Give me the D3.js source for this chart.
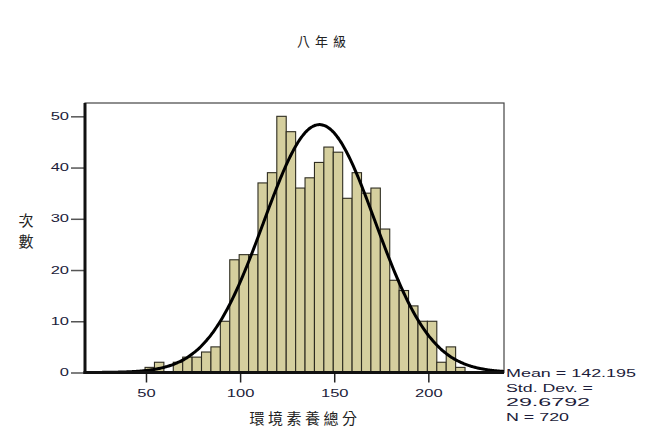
<!DOCTYPE html>
<html>
<head>
<meta charset="utf-8">
<script src="https://cdn.jsdelivr.net/npm/d3@7"></script>
<style>
  body { margin: 0; background: #fff; }
  .tick text { font-family: "Liberation Sans", Arial, sans-serif; font-size: 10px; fill: #1c1c3a; }
  .cjk { font-family: "Noto Sans CJK TC", sans-serif; fill: #222; }
  .stats { font-family: "Liberation Sans", Arial, sans-serif; font-size: 10px; fill: #1c1c3a; }
</style>
</head>
<body>
<div id="chart-area"></div>
<script>

// 直方圖資料 (每組 5 分)
const binStart = 49.5;
const binWidth = 5;
const counts = [1, 2, 0, 2, 3, 3, 4, 5, 10, 22, 23, 23, 37, 39, 50, 47, 36, 38,
                41, 44, 43, 34, 39, 35, 36, 28, 18, 16, 13, 10, 10, 2, 5, 1];
const xTicks = [50, 100, 150, 200];
const yTicks = [0, 10, 20, 30, 40, 50];
const statNames = ["Mean", "Std. Dev.", "N"];
const statValues = [142.195, 29.6792, 720];

const width = 650, height = 443;
const plot = {left: 85, right: 504, top: 103, bottom: 372.5};

var svg = d3.select("#chart-area").append("svg")
	.attr("width", width)
	.attr("height", height);

var x = d3.scaleLinear()
	.domain([17.6, 240.2])
	.range([plot.left, plot.right]);

var y = d3.scaleLinear()
	.domain([0, 52.6])
	.range([plot.bottom, plot.top]);

// 外框
svg.append("rect")
	.attr("x", plot.left)
	.attr("y", plot.top)
	.attr("width", plot.right - plot.left)
	.attr("height", plot.bottom - plot.top)
	.attr("fill", "none")
	.attr("stroke", "#444")
	.attr("stroke-width", 1.2);

// 長條
svg.selectAll(".bar")
	.data(counts)
	.enter().append("rect")
	.attr("class", "bar")
	.attr("x", (d, i) => x(binStart + i * binWidth))
	.attr("y", d => y(d))
	.attr("width", x(binStart + binWidth) - x(binStart))
	.attr("height", d => plot.bottom - y(d))
	.attr("fill", "#d5cf9e")
	.attr("stroke", "#2e2c20")
	.attr("stroke-width", 1.1);

// 常態曲線
var mean = statValues[0], sd = statValues[1], n = statValues[2];
var curvePts = d3.range(0, 301).map(k => {
	var v = x.domain()[0] + (x.domain()[1] - x.domain()[0]) * k / 300;
	var z = (v - mean) / sd;
	return [v, n * binWidth * Math.exp(-0.5 * z * z) / (sd * Math.sqrt(2 * Math.PI))];
});
var line = d3.line()
	.x(d => x(d[0]))
	.y(d => y(d[1]))
	.curve(d3.curveBasis);

svg.append("path")
	.datum(curvePts)
	.attr("fill", "none")
	.attr("stroke", "#000")
	.attr("stroke-width", 3)
	.attr("d", line);

// x軸
var gx = svg.append("g")
	.attr("transform", `translate(0,${plot.bottom})`)
	.call(d3.axisBottom(x).tickValues(xTicks).tickSize(10).tickSizeOuter(0));
gx.select(".domain").remove();
gx.selectAll(".tick line").attr("stroke", "#222").attr("stroke-width", 1.5);
gx.selectAll(".tick text")
	.attr("y", 0)
	.attr("dy", 0)
	.attr("transform", "translate(0,24.5) scale(1.65,1)");

// y軸
var gy = svg.append("g")
	.attr("transform", `translate(${plot.left},0)`)
	.call(d3.axisLeft(y).tickValues(yTicks).tickSize(14).tickSizeOuter(0));
gy.select(".domain").remove();
gy.selectAll(".tick line").attr("stroke", "#555").attr("stroke-width", 1.5);
gy.selectAll(".tick text")
	.attr("x", 0)
	.attr("transform", "translate(-16,0) scale(1.65,1)");

// 粗軸線
svg.append("line")
	.attr("x1", plot.left).attr("y1", plot.top)
	.attr("x2", plot.left).attr("y2", plot.bottom + 1.5)
	.attr("stroke", "#111").attr("stroke-width", 3);
svg.append("line")
	.attr("x1", plot.left - 1.5).attr("y1", plot.bottom)
	.attr("x2", plot.right).attr("y2", plot.bottom)
	.attr("stroke", "#111").attr("stroke-width", 3);

// 標題與軸標籤
svg.append("text")
	.attr("class", "cjk")
	.attr("x", 324)
	.attr("y", 46)
	.attr("text-anchor", "middle")
	.style("font-size", "13px")
	.style("letter-spacing", "5px")
	.text("八年級");

svg.append("text")
	.attr("class", "cjk")
	.attr("x", 305)
	.attr("y", 424)
	.attr("text-anchor", "middle")
	.style("font-size", "15px")
	.style("letter-spacing", "3.5px")
	.text("環境素養總分");

svg.selectAll(".ylab")
	.data(["次", "數"])
	.enter().append("text")
	.attr("class", "cjk ylab")
	.attr("x", 26)
	.attr("y", (d, i) => 226 + i * 21)
	.attr("text-anchor", "middle")
	.style("font-size", "15px")
	.text(d => d);

// 統計量
var statLines = [
	`${statNames[0]} = ${statValues[0]}`,
	`${statNames[1]} =`,
	`${statValues[1]}`,
	`${statNames[2]} = ${statValues[2]}`
];
var statWidths = [130, 87, 84, 63];
svg.selectAll(".stats")
	.data(statLines)
	.enter().append("text")
	.attr("class", "stats")
	.attr("x", 506)
	.attr("y", (d, i) => 377 + i * 14.7)
	.attr("textLength", (d, i) => statWidths[i])
	.attr("lengthAdjust", "spacingAndGlyphs")
	.text(d => d);

</script>
</body>
</html>
